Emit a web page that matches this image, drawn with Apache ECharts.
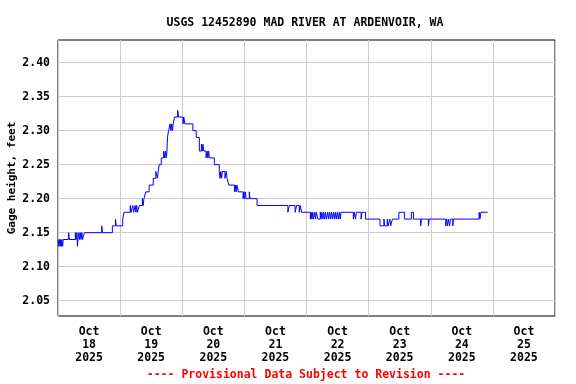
<!DOCTYPE html>
<html>
<head>
<meta charset="utf-8">
<script src="https://cdn.jsdelivr.net/npm/echarts@6/dist/echarts.min.js"></script>
<style>html,body{margin:0;padding:0;background:#fff}#c{width:576px;height:384px}</style>
</head>
<body>
<div id="c"></div>
<script>
// Hours since 2025-10-18 00:00 and gage height (feet)
const hours = [
0,0.3,0.5,0.8,1.0,1.3,1.5,1.8,2.0,
4.1,4.4,
6.7,7.0,7.3,7.5,7.7,8.0,8.3,8.6,8.9,9.2,9.5,
10.2,16.9,17.2,21.0,22.2,22.5,25.0,25.5,
26.4,27.9,28.2,28.9,29.2,29.8,30.1,30.4,30.7,31.4,32.6,32.9,33.2,33.9,35.2,
36.8,37.8,38.4,38.7,39.1,39.9,40.8,41.2,41.5,41.8,42.1,42.3,42.7,43.3,43.6,43.9,44.2,44.5,
45.0,46.2,46.6,48.3,48.6,49.0,52.1,53.4,54.6,55.4,55.7,56.0,56.3,
57.2,57.6,57.9,58.2,58.5,60.4,62.3,62.6,62.9,63.2,63.5,64.5,65.0,65.3,66.0,
68.2,68.5,68.8,69.1,69.7,71.5,71.8,72.1,72.4,72.7,73.9,74.2,76.9,
88.8,89.4,91.6,92.2,93.2,93.6,94.1,
97.5,97.8,98.1,98.4,98.7,99.2,99.5,99.8,100.4,101.3,101.6,101.9,102.3,102.6,103.0,103.3,103.7,
104.2,104.5,104.9,105.3,105.6,106.0,106.4,106.8,107.1,107.5,107.9,108.3,108.7,109.0,109.3,
114.1,114.5,114.9,115.3,117.1,117.4,118.8,
124.4,125.9,126.2,127.2,127.5,128.2,128.5,129.2,131.7,133.9,136.5,137.3,
140.1,140.4,143.1,143.4,149.8,150.1,150.5,150.8,151.3,151.6,152.5,152.8,
162.7,163.0,163.4,166.0
];
const heights = [
2.14,2.13,2.14,2.13,2.14,2.13,2.14,2.13,2.14,
2.15,2.14,
2.15,2.14,2.15,2.13,2.14,2.15,2.14,2.15,2.14,2.15,2.14,
2.15,2.16,2.15,2.16,2.17,2.16,2.17,2.18,
2.18,2.19,2.18,2.19,2.18,2.19,2.18,2.19,2.18,2.19,2.20,2.19,2.20,2.21,2.22,
2.23,2.24,2.23,2.24,2.25,2.26,2.27,2.26,2.27,2.26,2.27,2.29,2.30,2.31,2.30,2.31,2.30,2.31,
2.32,2.33,2.32,2.31,2.32,2.31,2.30,2.29,2.27,2.28,2.27,2.28,2.27,
2.26,2.27,2.26,2.27,2.26,2.25,2.24,2.23,2.24,2.23,2.24,2.23,2.24,2.23,2.22,
2.21,2.22,2.21,2.22,2.21,2.20,2.21,2.20,2.21,2.20,2.21,2.20,2.19,
2.18,2.19,2.18,2.19,2.18,2.19,2.18,
2.17,2.18,2.17,2.18,2.17,2.18,2.17,2.18,2.17,2.18,2.17,2.18,2.17,2.18,2.17,2.18,2.17,
2.18,2.17,2.18,2.17,2.18,2.17,2.18,2.17,2.18,2.17,2.18,2.17,2.18,2.17,2.18,
2.17,2.18,2.17,2.18,2.17,2.18,2.17,
2.16,2.17,2.16,2.17,2.16,2.17,2.16,2.17,2.18,2.17,2.18,2.17,
2.16,2.17,2.16,2.17,2.16,2.17,2.16,2.17,2.16,2.17,2.16,2.17,
2.18,2.17,2.18,2.18
];
const dayLabels = ['Oct\n18\n2025','Oct\n19\n2025','Oct\n20\n2025','Oct\n21\n2025',
                   'Oct\n22\n2025','Oct\n23\n2025','Oct\n24\n2025','Oct\n25\n2025'];
const yTicks = [2.05,2.10,2.15,2.20,2.25,2.30,2.35,2.40];
const dayMidnights = [0,24,48,72,96,120,144,168,192];
const dayNoons = [12,36,60,84,108,132,156,180];

const data = hours.map((h,i)=>[h,heights[i]]);
const font = '"DejaVu Sans Mono", monospace';
const chart = echarts.init(document.getElementById('c'), null, {renderer:'canvas'});
chart.setOption({
  animation:false,
  backgroundColor:'#fff',
  title:{
    text:'USGS 12452890 MAD RIVER AT ARDENVOIR, WA',
    left:300, top:12, textAlign:'center',
    textStyle:{fontFamily:font,fontSize:11.5,fontWeight:'bold',color:'#000'}
  },
  graphic:[{
    type:'text', x:306, y:369,
    style:{text:'---- Provisional Data Subject to Revision ----', textAlign:'center',
      fill:'#ff0000', font:'bold 11.5px "DejaVu Sans Mono", monospace'}
  }],
  grid:{left:58,right:21,top:40,bottom:68,show:true,borderColor:'#000',borderWidth:1,
        backgroundColor:'transparent',outerBoundsMode:'none',containLabel:false},
  xAxis:{
    type:'value', min:0, max:192, interval:24,
    axisLine:{show:false},
    axisTick:{show:false, customValues:dayMidnights},
    splitLine:{show:true,lineStyle:{color:'#cccccc',width:1}},
    axisLabel:{
      customValues:dayNoons,
      formatter:function(v){return dayLabels[Math.floor(v/24)]||'';},
      fontFamily:font,fontSize:11.5,fontWeight:'bold',color:'#000',
      lineHeight:13, margin:10
    }
  },
  yAxis:{
    type:'value', min:2.0275, max:2.4333,
    name:'Gage height, feet', nameLocation:'middle', nameGap:40, nameMoveOverlap:false,
    nameTextStyle:{fontFamily:font,fontSize:11,fontWeight:'bold',color:'#000'},
    axisLine:{show:false},
    axisTick:{show:false, customValues:yTicks},
    splitLine:{show:true,lineStyle:{color:'#cccccc',width:1}},
    axisLabel:{
      customValues:yTicks,
      formatter:function(v){return v.toFixed(2);},
      fontFamily:font,fontSize:11.5,fontWeight:'bold',color:'#000',margin:8
    }
  },
  series:[{
    type:'line', data:data, step:'end', showSymbol:false, symbol:'none',
    lineStyle:{color:'#0000ff',width:1}, z:3
  }]
});
</script>
</body>
</html>
